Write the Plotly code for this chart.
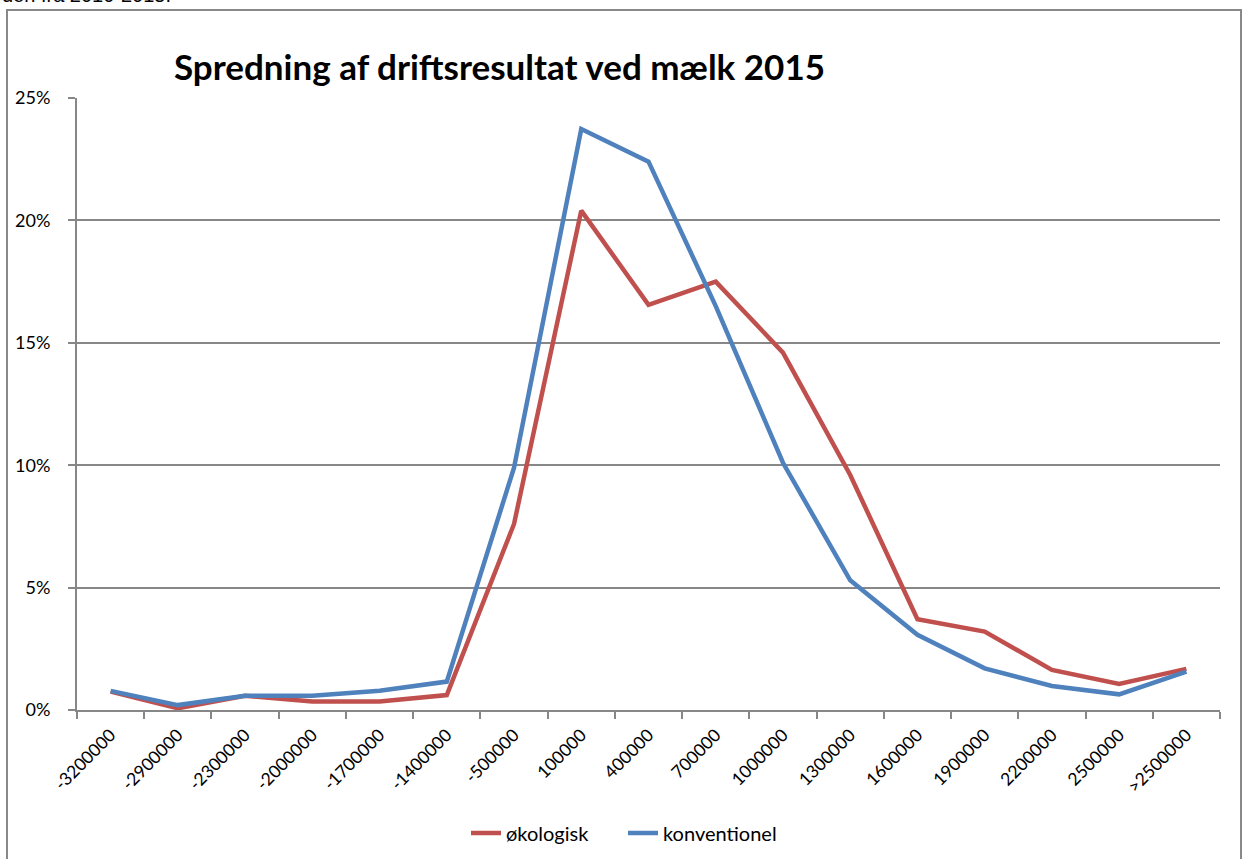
import plotly.graph_objects as go

categories = ["-3200000", "-2900000", "-2300000", "-2000000", "-1700000", "-1400000",
              "-500000", "100000", "400000", "700000", "1000000", "1300000",
              "1600000", "1900000", "2200000", "2500000", ">2500000"]
okologisk = [0.0075, 0.0007, 0.0058, 0.0035, 0.0035, 0.0061, 0.076, 0.204, 0.1655,
             0.175, 0.146, 0.096, 0.0371, 0.032, 0.0164, 0.0106, 0.0168]
konventionel = [0.0078, 0.0020, 0.0058, 0.0058, 0.0079, 0.0116, 0.099, 0.2373, 0.224,
                0.165, 0.101, 0.053, 0.0307, 0.017, 0.0098, 0.0064, 0.0157]
y_ticks = [0, 0.05, 0.10, 0.15, 0.20, 0.25]
y_labels = ["0%", "5%", "10%", "15%", "20%", "25%"]

W, H = 1242, 859
L, R, T, B = 77, 22, 98, 149
pw, ph = W - L - R, H - T - B

def px(x):
    return (x - L) / pw

def py(y):
    return (H - B - y) / ph

fig = go.Figure()
fig.add_trace(go.Scatter(x=categories, y=okologisk, mode="lines", name="økologisk",
                         line=dict(color="#C0504D", width=4.5)))
fig.add_trace(go.Scatter(x=categories, y=konventionel, mode="lines", name="konventionel",
                         line=dict(color="#4F81BD", width=4.5)))

font_family = "Lato, Open Sans, sans-serif"

fig.update_layout(
    width=W, height=H,
    margin=dict(l=L, r=R, t=T, b=B, pad=0, autoexpand=False),
    paper_bgcolor="white", plot_bgcolor="white",
    font=dict(family=font_family, size=17, color="#000000"),
    showlegend=True,
    legend=dict(orientation="h", x=px(466), xanchor="left", y=py(833), yanchor="middle",
                font=dict(size=20, color="#000"), tracegroupgap=0,
                entrywidth=112, entrywidthmode="pixels",
                bgcolor="rgba(0,0,0,0)"),
    xaxis=dict(type="category", categoryorder="array", categoryarray=categories,
               range=[-0.5, len(categories) - 0.5], automargin=False,
               showline=True, linecolor="#878787", linewidth=2,
               ticks="outside", ticklen=7, tickcolor="#878787", tickwidth=2,
               tickson="boundaries", tickangle=-45, showgrid=False,
               ticklabelstandoff=6,
               tickfont=dict(size=17.5, color="#000")),
    yaxis=dict(range=[0, 0.25], tickvals=y_ticks, ticktext=y_labels, automargin=False,
               showline=True, linecolor="#878787", linewidth=2,
               ticks="outside", ticklen=7, tickcolor="#878787", tickwidth=2,
               showgrid=True, gridcolor="#878787", gridwidth=2,
               ticklabelstandoff=14,
               zeroline=False, tickfont=dict(size=18, color="#000")),
    shapes=[
        dict(type="rect", xref="paper", yref="paper",
             x0=px(7), x1=px(1241), y0=py(880), y1=py(10),
             line=dict(color="#888888", width=2), fillcolor="rgba(0,0,0,0)", layer="below"),
    ],
    annotations=[
        dict(text="<b>Spredning af driftsresultat ved mælk 2015</b>", xref="paper", yref="paper",
             x=px(172), y=py(66), xanchor="left", yanchor="middle", showarrow=False,
             font=dict(size=35, family=font_family, color="#000")),
        dict(text="den fra 2010-2015.", xref="paper", yref="paper",
             x=px(0), y=py(8), xanchor="left", yanchor="bottom", showarrow=False,
             font=dict(size=20, family="Liberation Sans, Arial, sans-serif", color="#000")),
    ],
)

fig.write_html("out.html", config={"displayModeBar": False},
               post_script="document.body.style.margin='0';document.body.style.padding='0';")
